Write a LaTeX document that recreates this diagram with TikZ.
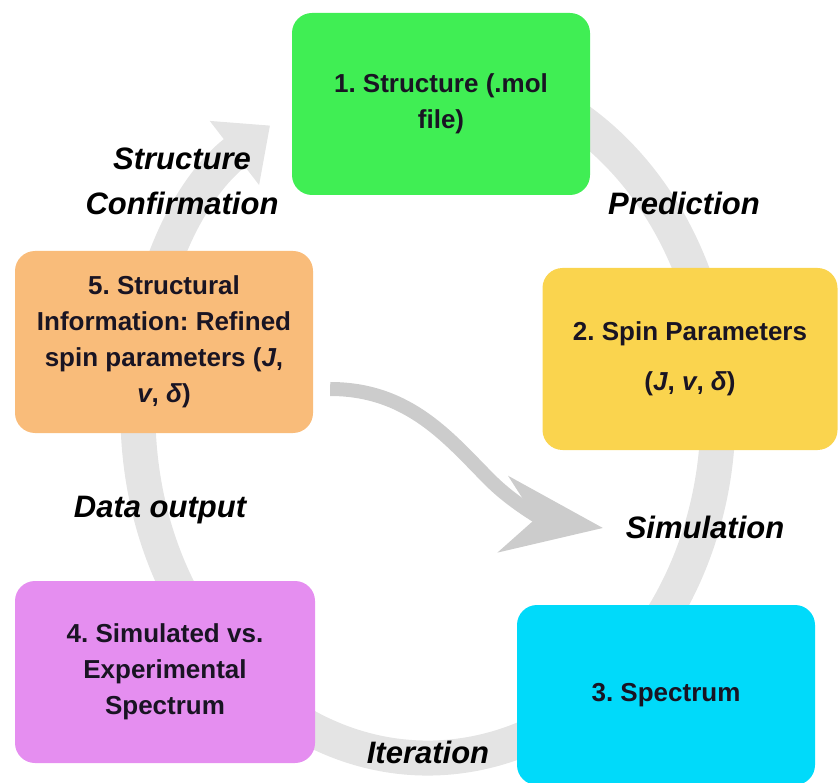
\documentclass[tikz,border=0pt]{standalone}
\usepackage{fontspec}
\setmainfont{Liberation Sans}
\usetikzlibrary{arrows.meta}

\definecolor{boxgreen}{RGB}{64,238,84}
\definecolor{boxyellow}{RGB}{250,212,78}
\definecolor{boxcyan}{RGB}{0,218,250}
\definecolor{boxviolet}{RGB}{229,142,240}
\definecolor{boxorange}{RGB}{249,188,122}
\definecolor{ringgray}{RGB}{228,228,228}
\definecolor{arrowgray}{RGB}{204,204,204}
\definecolor{textdark}{RGB}{25,20,35}

\frenchspacing
\begin{document}
\begin{tikzpicture}[
    x=1pt, y=-1pt,
    box/.style={rectangle, rounded corners=20pt, minimum width=298pt,
        minimum height=182pt, align=center, text=textdark,
        font=\fontsize{26}{36}\selectfont\bfseries},
    lbl/.style={align=center, text=black,
        font=\fontsize{31}{45}\selectfont\bfseries\itshape},
    ring/.style={draw=ringgray, line width=35pt},
    refine/.style={draw=arrowgray, line width=14pt}
]
\useasboundingbox (0,0) rectangle (838,783);

% the cycle behind the boxes
\draw[ring, -{Triangle[length=45pt, width=78pt]}] (428,414) ++(-100:290 and 344)
    arc[start angle=-100, end angle=237, x radius=290, y radius=344];

\node[box, fill=boxgreen] (n1) at (441,104) {1. Structure (.mol\\file)};
\node[box, fill=boxyellow, minimum width=295pt] (n2) at (690,359)
    {2. Spin Parameters\\[14pt](\textit{J}, \textit{v}, \textit{δ})};
\node[box, fill=boxcyan, minimum height=180pt] (n3) at (666,695) {3. Spectrum};
\node[box, fill=boxviolet, minimum width=300pt] (n4) at (165,672)
    {4. Simulated vs.\\Experimental\\Spectrum};
\node[box, fill=boxorange] (n5) at (164,342)
    {5. Structural\\Information: Refined\\spin parameters (\textit{J},\\\textit{v}, \textit{δ})};

\node[lbl] (conf) at (182,181) {Structure\\Confirmation};
\node[lbl] (pred) at (684,203) {Prediction};
\node[lbl] (sim) at (705,527) {Simulation};
\node[lbl] (out) at (160,510) {Data output};
\node[lbl] (iter) at (428,752) {Iteration};

% refinement arrow
\coordinate (s0) at (n5.east |- 0,389);
\coordinate (s1) at (603,528);
\draw[refine, -{Stealth[length=100pt, width=76pt, inset=32pt]}] ([xshift=17pt]s0)
    .. controls (410,389) and (450,440) .. (490,480)
    .. controls (515,505) and (545,520) .. (s1);

\end{tikzpicture}
\end{document}
